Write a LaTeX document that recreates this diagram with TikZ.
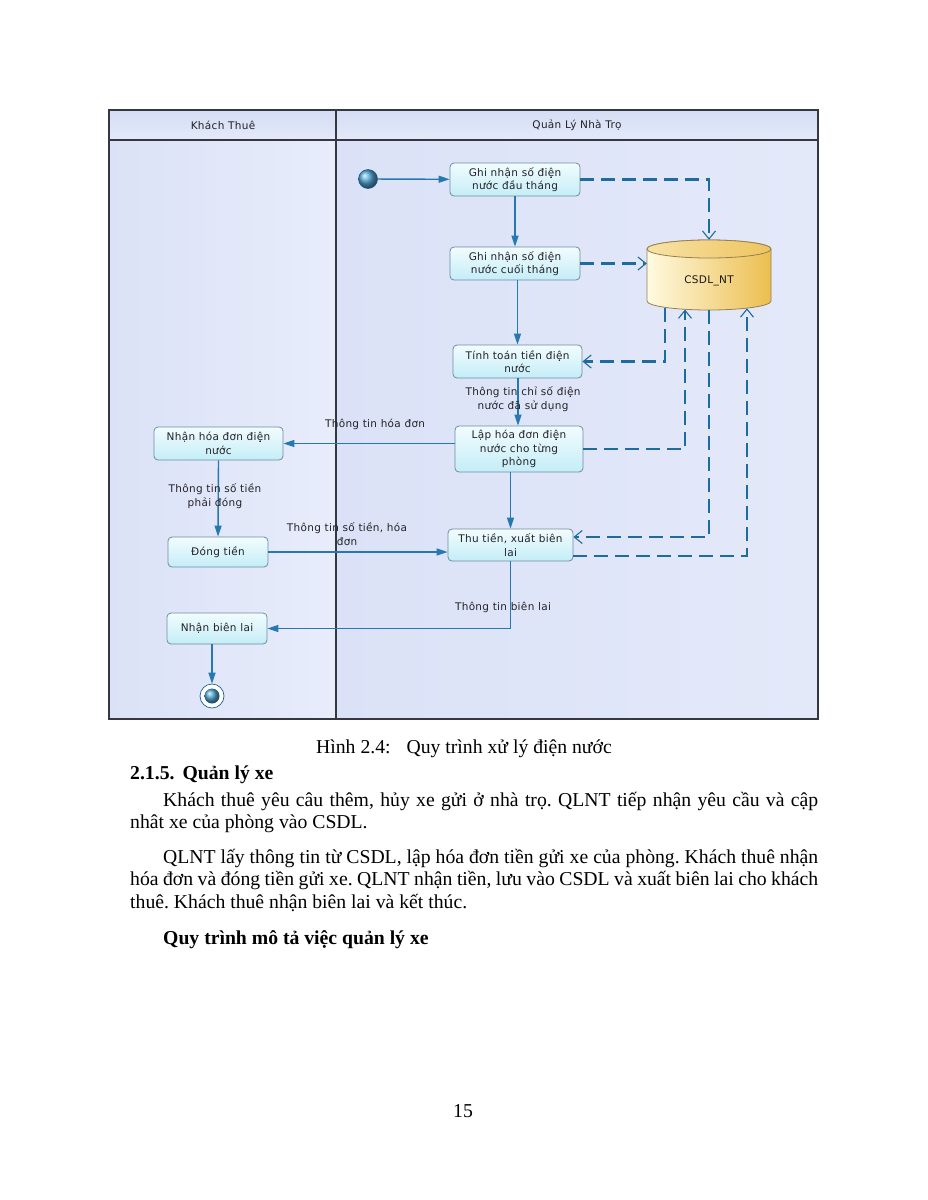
\documentclass[tikz,border=0pt]{standalone}
\usepackage{fontspec}
\setmainfont{Liberation Serif}
\newfontfamily\diagfont[LetterSpace=3]{DejaVu Sans}
\usetikzlibrary{arrows.meta,calc}
\definecolor{lineblue}{RGB}{38,120,176}
\definecolor{dashblue}{RGB}{28,108,158}
\definecolor{framegray}{RGB}{55,55,65}
\definecolor{txtgray}{RGB}{35,35,40}
\definecolor{laneA}{RGB}{232,236,251}
\definecolor{laneB}{RGB}{219,226,247}
\definecolor{headA}{RGB}{212,221,244}
\definecolor{headB}{RGB}{228,234,250}
\definecolor{actA}{RGB}{242,252,254}
\definecolor{actB}{RGB}{196,237,247}
\definecolor{actBorder}{RGB}{110,140,165}
\definecolor{dbA}{RGB}{255,250,225}
\definecolor{dbB}{RGB}{236,190,80}
\definecolor{dbBorder}{RGB}{150,128,80}
\definecolor{ballblue}{RGB}{80,165,212}
\begin{document}
\frenchspacing
\begin{tikzpicture}[x=1pt,y=-1pt,
  dfont/.style={font=\diagfont\fontsize{10.5}{13.5}\selectfont},
  act/.style={dfont, draw=actBorder, line width=0.8pt, rounded corners=4pt,
    top color=actA, bottom color=actB, align=center, text=txtgray, inner sep=1pt},
  flow/.style={draw=lineblue, line width=1.4pt, -{Triangle[length=11pt,width=7pt]}},
  data/.style={draw=dashblue, line width=2.4pt, dash pattern=on 14pt off 7pt,
    -{Straight Barb[length=8pt,width=13pt,line width=1.1pt]}},
  lbl/.style={dfont, text=txtgray, align=center, inner sep=0pt},
  body/.style={font=\fontsize{19.7}{22.5}\selectfont, inner sep=0pt, anchor=base west},
  frame/.style={draw=framegray, line width=1.1pt},
]
\useasboundingbox[fill=white] (0,0) rectangle (927,1200);

% swimlanes
\shade[left color=laneB, right color=laneA] (109,140) rectangle (336,719);
\shade[left color=laneB, right color=laneA!70!laneB] (336,140) rectangle (818,719);
\shade[top color=headA, bottom color=headB] (109,110) rectangle (818,140);
\draw[frame] (109,110) rectangle (818,719);
\draw[frame] (109,140) -- (818,140);
\draw[frame] (336,110) -- (336,719);
\node[lbl] (h1) at (223,125) {Khách Thuê};
\node[lbl] (h2) at (577,125) {Quản Lý Nhà Trọ};

% start / end
\node[circle, minimum size=19pt, inner sep=0, shading=ball, ball color=ballblue, draw=lineblue!70!black, line width=0.5pt] (start) at (368,179) {};
\node[circle, minimum size=24pt, inner sep=0, draw=lineblue!80!black, line width=0.7pt, fill=white] (end) at (212,696) {};
\node[circle, minimum size=15pt, inner sep=0, shading=ball, ball color=ballblue] (endin) at (end.center) {};

% activities
\node[act, minimum width=130pt, minimum height=33pt] (n1) at (515,179.5) {Ghi nhận số điện\\nước đầu tháng};
\node[act, minimum width=130pt, minimum height=33pt] (n2) at (515,263.5) {Ghi nhận số điện\\nước cuối tháng};
\node[act, minimum width=129pt, minimum height=33pt] (n3) at (517.5,361.5) {Tính toán tiền điện\\nước};
\node[act, minimum width=128pt, minimum height=46pt] (n4) at (519,449) {Lập hóa đơn điện\\nước cho từng\\phòng};
\node[act, minimum width=125pt, minimum height=32pt] (n5) at (510.5,545) {Thu tiền, xuất biên\\lai};
\node[act, minimum width=129pt, minimum height=33pt] (A) at (218.5,443.5) {Nhận hóa đơn điện\\nước};
\node[act, minimum width=100pt, minimum height=30pt] (B) at (218,552) {Đóng tiền};
\node[act, minimum width=100pt, minimum height=31pt] (C) at (217,628.5) {Nhận biên lai};

% database cylinder
\path[left color=dbA, right color=dbB, draw=dbBorder, line width=0.8pt]
  (647,249) -- (647,301) arc[start angle=180, end angle=360, x radius=62pt, y radius=9pt]
  -- (771,249) arc[start angle=0, end angle=180, x radius=62pt, y radius=9pt] -- cycle;
\path[left color=dbA!60!dbB, right color=dbB!90!dbA, draw=dbBorder, line width=0.8pt]
  (709,249) ellipse [x radius=62pt, y radius=9pt];
\node[minimum width=124pt, minimum height=70pt, inner sep=0,
  label={[yshift=-6pt, dfont, text=black!90]center:CSDL\_NT}] (db) at (709,275) {};

% control flows
\draw[flow] (start) -- (n1);
\draw[flow] (n1) -- (n2);
\draw[flow] (n3.north |- n2.south) -- (n3.north);
\draw[flow] ([xshift=-1pt]n4.north |- n3.south) -- ([xshift=-1pt]n4.north);
\node[lbl] (l1) at (523,399) {Thông tin chỉ số điện\\nước đã sử dụng};
\draw[flow] (n5.north |- n4.south) -- (n5.north);
\draw[flow] (n4.west |- A.east) -- (A.east);
\node[lbl] (l2) at (375,424) {Thông tin hóa đơn};
\draw[flow] (A.south) -- (B.north);
\node[lbl] (l3) at (215,496) {Thông tin số tiền\\phải đóng};
\draw[flow] (B.east) -- (B.east -| n5.west);
\node[lbl] (l4) at (347,534) {Thông tin số tiền, hóa\\đơn};
\draw[flow] (n5.south) |- (C.east);
\node[lbl] (l5) at (503,607) {Thông tin biên lai};
\draw[flow] (end.north |- C.south) -- (end.north);

% data flows
\draw[data] (n1.east) -| (db.north);
\draw[data] (n2.east) -- (db.west |- n2.east);
\draw[data] ([xshift=-44pt,yshift=2.7pt]db.south) |- (n3.east);
\draw[data] (n4.east) -| ([xshift=-24pt,yshift=0.7pt]db.south);
\draw[data] (db.south) |- ([yshift=8pt]n5.east);
\draw[data] ([yshift=-11pt]n5.east) -| ([xshift=38pt,yshift=1.9pt]db.south);

% page text
\node[font=\fontsize{19.7}{22.5}\selectfont, inner sep=0, anchor=base] (cap) at (464,753) {Hình 2.4:\hspace{16pt}Quy trình xử lý điện nước};
\node[body, font=\fontsize{19.7}{22.5}\selectfont\bfseries] (sec) at (130,779) {2.1.5.\hspace{8pt}Quản lý xe};
\node[body] (p1) at (163,806) {\makebox[655pt][s]{Khách thuê yêu câu thêm, hủy xe gửi ở nhà trọ. QLNT tiếp nhận yêu cầu và cập}};
\node[body] (p2) at (130,828.5) {nhât xe của phòng vào CSDL.};
\node[body] (p3) at (163,863) {\makebox[655pt][s]{QLNT lấy thông tin từ CSDL, lập hóa đơn tiền gửi xe của phòng. Khách thuê nhận}};
\node[body] (p4) at (130,885.5) {\makebox[688pt][s]{hóa đơn và đóng tiền gửi xe. QLNT nhận tiền, lưu vào CSDL và xuất biên lai cho khách}};
\node[body] (p5) at (130,908) {thuê. Khách thuê nhận biên lai và kết thúc.};
\node[body, font=\fontsize{19.7}{22.5}\selectfont\bfseries] (p6) at (163,944) {Quy trình mô tả việc quản lý xe};
\node[font=\fontsize{19.7}{22.5}\selectfont, inner sep=0, anchor=base] (pg) at (463,1117) {15};
\end{tikzpicture}
\end{document}
